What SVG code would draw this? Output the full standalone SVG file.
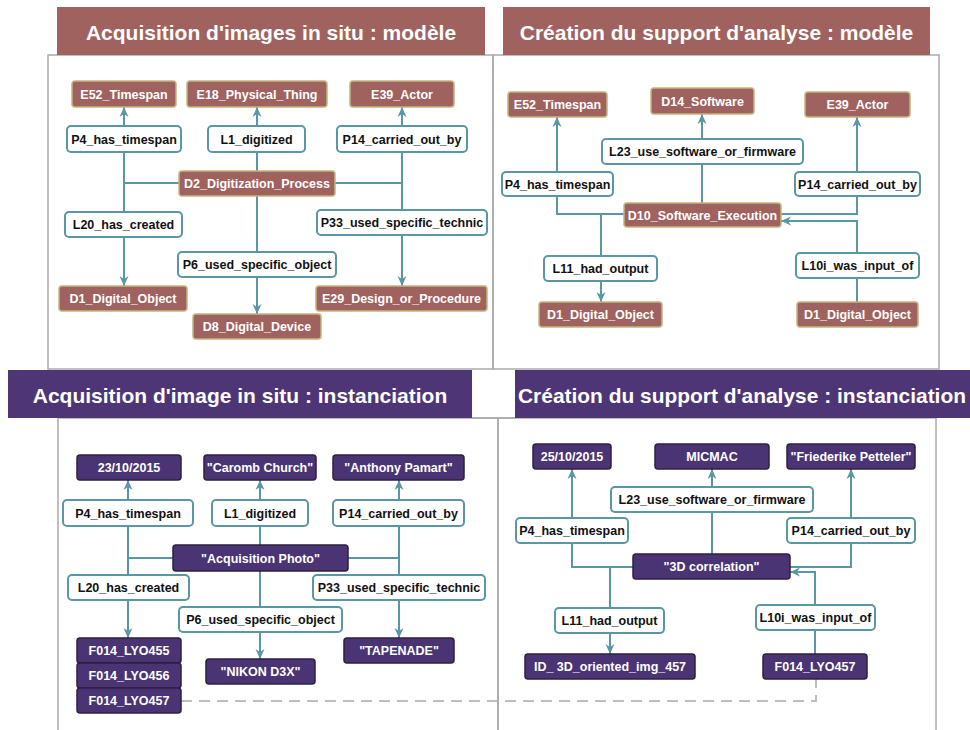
<svg xmlns="http://www.w3.org/2000/svg" width="970" height="730" viewBox="0 0 970 730">
<style>
  .panel{fill:none;stroke:#ABABAB;stroke-width:1.5}
  .bm{fill:#A0625F}
  .bi{fill:#4E3576}
  .title{font-family:"Liberation Sans",Arial,Helvetica,sans-serif;font-weight:bold;font-size:21px;fill:#FFFFFF}
  .m{fill:#A0625F;stroke:#C4B47E;stroke-width:1.5}
  .i{fill:#4B3474;stroke:#2C2040;stroke-width:1.5}
  .lb{fill:#FFFFFF;stroke:#5A97A5;stroke-width:2}
  .nt{font-family:"Liberation Sans",Arial,Helvetica,sans-serif;font-weight:bold;font-size:12.5px;fill:#FFFFFF;text-anchor:middle}
  .lt{font-family:"Liberation Sans",Arial,Helvetica,sans-serif;font-weight:bold;font-size:12.5px;fill:#111111;text-anchor:middle}
  .c{fill:none;stroke:#5A97A5;stroke-width:2}
  .a{marker-end:url(#arr)}
  .dash{fill:none;stroke:#BDBDBD;stroke-width:2;stroke-dasharray:11 7}
</style>
<defs>
  <marker id="arr" viewBox="0 0 10 10" refX="10" refY="5" markerWidth="10" markerHeight="10" orient="auto" markerUnits="userSpaceOnUse">
    <path d="M0,0.5 L10,5 L0,9.5 L3,5 z" fill="#5A97A5"/>
  </marker>
</defs>
<rect width="970" height="730" fill="#FFFFFF"/>

<g id="panels">
  <rect class="panel" x="48" y="55" width="445" height="314"/>
  <rect class="panel" x="493" y="55" width="446" height="314"/>
  <rect class="panel" x="58" y="418" width="440" height="320"/>
  <rect class="panel" x="498" y="418" width="438" height="320"/>
  <line class="panel" x1="472" y1="418" x2="515" y2="418"/>
</g>

<g id="banners">
  <g id="banner-tl"><rect class="bm" x="57" y="7" width="428" height="48"/><text class="title" x="271" y="40" text-anchor="middle">Acquisition d'images in situ : modèle</text></g>
  <g id="banner-tr"><rect class="bm" x="503" y="7" width="427" height="48"/><text class="title" x="716.5" y="40" text-anchor="middle">Création du support d'analyse : modèle</text></g>
  <g id="banner-bl"><rect class="bi" x="8" y="370" width="464" height="48"/><text class="title" x="240" y="403" text-anchor="middle">Acquisition d'image in situ : instanciation</text></g>
  <g id="banner-br"><rect class="bi" x="515" y="370" width="460" height="48"/><text class="title" x="518" y="403" textLength="448" lengthAdjust="spacingAndGlyphs">Création du support d'analyse : instanciation</text></g>
</g>

<g id="connectors">
  <!-- top-left -->
  <line class="c a" x1="124" y1="126" x2="124" y2="107"/>
  <line class="c a" x1="257" y1="126" x2="257" y2="107"/>
  <line class="c a" x1="402" y1="126" x2="402" y2="107"/>
  <line class="c" x1="124" y1="152" x2="124" y2="212"/>
  <line class="c" x1="124" y1="183" x2="179" y2="183"/>
  <line class="c" x1="335" y1="183" x2="402" y2="183"/>
  <line class="c a" x1="124" y1="237" x2="124" y2="286"/>
  <line class="c" x1="257" y1="152" x2="257" y2="171"/>
  <line class="c" x1="257" y1="196" x2="257" y2="252"/>
  <line class="c a" x1="257" y1="277" x2="257" y2="314"/>
  <line class="c" x1="402" y1="152" x2="402" y2="210"/>
  <line class="c a" x1="402" y1="235" x2="402" y2="286"/>
  <!-- top-right -->
  <line class="c a" x1="557" y1="172" x2="557" y2="117"/>
  <line class="c a" x1="702" y1="139" x2="702" y2="114"/>
  <line class="c a" x1="857" y1="172" x2="857" y2="117"/>
  <polyline class="c" points="557,196 557,214 624,214"/>
  <line class="c" x1="601" y1="214" x2="601" y2="256"/>
  <line class="c a" x1="601" y1="281" x2="601" y2="302"/>
  <line class="c" x1="702" y1="164" x2="702" y2="203"/>
  <polyline class="c" points="857,196 857,214 781,214"/>
  <polyline class="c a" points="857,253 857,221 781,221"/>
  <line class="c" x1="857" y1="278" x2="857" y2="302"/>
  <!-- bottom-left -->
  <line class="c a" x1="128" y1="500" x2="128" y2="480"/>
  <line class="c a" x1="260" y1="500" x2="260" y2="480"/>
  <line class="c a" x1="399" y1="500" x2="399" y2="480"/>
  <line class="c" x1="128" y1="526" x2="128" y2="575"/>
  <line class="c" x1="128" y1="558" x2="173" y2="558"/>
  <line class="c" x1="348" y1="558" x2="399" y2="558"/>
  <line class="c a" x1="128" y1="600" x2="128" y2="638"/>
  <line class="c" x1="260" y1="526" x2="260" y2="545"/>
  <line class="c" x1="260" y1="571" x2="260" y2="607"/>
  <line class="c a" x1="260" y1="632" x2="260" y2="659"/>
  <line class="c" x1="399" y1="526" x2="399" y2="575"/>
  <line class="c a" x1="399" y1="600" x2="399" y2="638"/>
  <!-- bottom-right -->
  <line class="c a" x1="572" y1="518" x2="572" y2="469"/>
  <line class="c a" x1="712" y1="487" x2="712" y2="469"/>
  <line class="c a" x1="851" y1="518" x2="851" y2="469"/>
  <polyline class="c" points="572,543 572,567 633,567"/>
  <line class="c" x1="610" y1="567" x2="610" y2="608"/>
  <line class="c a" x1="610" y1="633" x2="610" y2="654"/>
  <line class="c" x1="712" y1="512" x2="712" y2="554"/>
  <polyline class="c" points="851,543 851,567 790,567"/>
  <polyline class="c a" points="815,605 815,572 790,572"/>
  <line class="c" x1="815" y1="630" x2="815" y2="654"/>
  <!-- link between instances -->
  <polyline class="dash" points="181,701 816,701 816,679"/>
</g>

<!-- top-left nodes -->
<g id="tl-e52"><rect class="m" x="72" y="81" width="104" height="26" rx="3"/><text class="nt" x="124" y="98.5">E52_Timespan</text></g>
<g id="tl-e18"><rect class="m" x="187" y="81" width="140" height="26" rx="3"/><text class="nt" x="257" y="98.5">E18_Physical_Thing</text></g>
<g id="tl-e39"><rect class="m" x="350" y="81" width="104" height="26" rx="3"/><text class="nt" x="402" y="98.5">E39_Actor</text></g>
<g id="tl-p4"><rect class="lb" x="67" y="126" width="114" height="26" rx="4"/><text class="lt" x="124" y="143.5">P4_has_timespan</text></g>
<g id="tl-l1"><rect class="lb" x="208" y="126" width="97" height="26" rx="4"/><text class="lt" x="256.5" y="143.5">L1_digitized</text></g>
<g id="tl-p14"><rect class="lb" x="337" y="126" width="130" height="26" rx="4"/><text class="lt" x="402" y="143.5">P14_carried_out_by</text></g>
<g id="tl-d2"><rect class="m" x="179" y="171" width="156" height="25" rx="3"/><text class="nt" x="257" y="188">D2_Digitization_Process</text></g>
<g id="tl-l20"><rect class="lb" x="65" y="212" width="117" height="25" rx="4"/><text class="lt" x="123.5" y="229">L20_has_created</text></g>
<g id="tl-p33"><rect class="lb" x="317" y="210" width="170" height="25" rx="4"/><text class="lt" x="402" y="227">P33_used_specific_technic</text></g>
<g id="tl-p6"><rect class="lb" x="178" y="252" width="158" height="25" rx="4"/><text class="lt" x="257" y="269">P6_used_specific_object</text></g>
<g id="tl-d1"><rect class="m" x="59" y="286" width="128" height="25" rx="3"/><text class="nt" x="123" y="303">D1_Digital_Object</text></g>
<g id="tl-d8"><rect class="m" x="193" y="314" width="128" height="25" rx="3"/><text class="nt" x="257" y="331">D8_Digital_Device</text></g>
<g id="tl-e29"><rect class="m" x="316" y="286" width="171" height="25" rx="3"/><text class="nt" x="401.5" y="303">E29_Design_or_Procedure</text></g>

<!-- top-right nodes -->
<g id="tr-e52"><rect class="m" x="508" y="92" width="99" height="25" rx="3"/><text class="nt" x="557.5" y="109">E52_Timespan</text></g>
<g id="tr-d14"><rect class="m" x="651" y="88" width="103" height="26" rx="3"/><text class="nt" x="702.5" y="105.5">D14_Software</text></g>
<g id="tr-e39"><rect class="m" x="805" y="92" width="105" height="25" rx="3"/><text class="nt" x="857.5" y="109">E39_Actor</text></g>
<g id="tr-l23"><rect class="lb" x="602" y="139" width="201" height="25" rx="4"/><text class="lt" x="702.5" y="156">L23_use_software_or_firmware</text></g>
<g id="tr-p4"><rect class="lb" x="502" y="172" width="111" height="24" rx="4"/><text class="lt" x="557.5" y="188.5">P4_has_timespan</text></g>
<g id="tr-p14"><rect class="lb" x="795" y="172" width="125" height="24" rx="4"/><text class="lt" x="857.5" y="188.5">P14_carried_out_by</text></g>
<g id="tr-d10"><rect class="m" x="624" y="203" width="157" height="24" rx="3"/><text class="nt" x="702.5" y="219.5">D10_Software_Execution</text></g>
<g id="tr-l11"><rect class="lb" x="544" y="256" width="113" height="25" rx="4"/><text class="lt" x="600.5" y="273">L11_had_output</text></g>
<g id="tr-l10i"><rect class="lb" x="796" y="253" width="123" height="25" rx="4"/><text class="lt" x="857.5" y="270">L10i_was_input_of</text></g>
<g id="tr-d1a"><rect class="m" x="539" y="302" width="123" height="25" rx="3"/><text class="nt" x="600.5" y="319">D1_Digital_Object</text></g>
<g id="tr-d1b"><rect class="m" x="797" y="302" width="121" height="25" rx="3"/><text class="nt" x="857.5" y="319">D1_Digital_Object</text></g>

<!-- bottom-left nodes -->
<g id="bl-date"><rect class="i" x="77" y="455" width="104" height="25" rx="3"/><text class="nt" x="129" y="472">23/10/2015</text></g>
<g id="bl-caromb"><rect class="i" x="204" y="455" width="112" height="25" rx="3"/><text class="nt" x="260" y="472">"Caromb Church"</text></g>
<g id="bl-anthony"><rect class="i" x="333" y="455" width="131" height="25" rx="3"/><text class="nt" x="398.5" y="472">"Anthony Pamart"</text></g>
<g id="bl-p4"><rect class="lb" x="63" y="500" width="130" height="26" rx="4"/><text class="lt" x="128" y="517.5">P4_has_timespan</text></g>
<g id="bl-l1"><rect class="lb" x="212" y="500" width="96" height="26" rx="4"/><text class="lt" x="260" y="517.5">L1_digitized</text></g>
<g id="bl-p14"><rect class="lb" x="333" y="500" width="131" height="26" rx="4"/><text class="lt" x="398.5" y="517.5">P14_carried_out_by</text></g>
<g id="bl-acq"><rect class="i" x="173" y="545" width="175" height="26" rx="3"/><text class="nt" x="260.5" y="562.5">"Acquisition Photo"</text></g>
<g id="bl-l20"><rect class="lb" x="68" y="575" width="121" height="25" rx="4"/><text class="lt" x="128.5" y="592">L20_has_created</text></g>
<g id="bl-p33"><rect class="lb" x="313" y="575" width="172" height="25" rx="4"/><text class="lt" x="399" y="592">P33_used_specific_technic</text></g>
<g id="bl-p6"><rect class="lb" x="179" y="607" width="163" height="25" rx="4"/><text class="lt" x="260.5" y="624">P6_used_specific_object</text></g>
<g id="bl-f455"><rect class="i" x="77" y="638" width="104" height="25" rx="3"/><text class="nt" x="129" y="655">F014_LYO455</text></g>
<g id="bl-f456"><rect class="i" x="77" y="663" width="104" height="25" rx="3"/><text class="nt" x="129" y="680">F014_LYO456</text></g>
<g id="bl-f457"><rect class="i" x="77" y="688" width="104" height="25" rx="3"/><text class="nt" x="129" y="705">F014_LYO457</text></g>
<g id="bl-nikon"><rect class="i" x="206" y="659" width="109" height="25" rx="3"/><text class="nt" x="260.5" y="676">"NIKON D3X"</text></g>
<g id="bl-tapenade"><rect class="i" x="344" y="638" width="110" height="25" rx="3"/><text class="nt" x="399" y="655">"TAPENADE"</text></g>

<!-- bottom-right nodes -->
<g id="br-date"><rect class="i" x="533" y="444" width="78" height="25" rx="3"/><text class="nt" x="572" y="461">25/10/2015</text></g>
<g id="br-micmac"><rect class="i" x="655" y="444" width="114" height="25" rx="3"/><text class="nt" x="712" y="461">MICMAC</text></g>
<g id="br-friederike"><rect class="i" x="787" y="444" width="128" height="25" rx="3"/><text class="nt" x="851" y="461">"Friederike Petteler"</text></g>
<g id="br-l23"><rect class="lb" x="611" y="487" width="202" height="25" rx="4"/><text class="lt" x="712" y="504">L23_use_software_or_firmware</text></g>
<g id="br-p4"><rect class="lb" x="516" y="518" width="112" height="25" rx="4"/><text class="lt" x="572" y="535">P4_has_timespan</text></g>
<g id="br-p14"><rect class="lb" x="787" y="518" width="128" height="25" rx="4"/><text class="lt" x="851" y="535">P14_carried_out_by</text></g>
<g id="br-3d"><rect class="i" x="633" y="554" width="157" height="25" rx="3"/><text class="nt" x="711.5" y="571">"3D correlation"</text></g>
<g id="br-l11"><rect class="lb" x="555" y="608" width="109" height="25" rx="4"/><text class="lt" x="609.5" y="625">L11_had_output</text></g>
<g id="br-l10i"><rect class="lb" x="756" y="605" width="119" height="25" rx="4"/><text class="lt" x="815.5" y="622">L10i_was_input_of</text></g>
<g id="br-id"><rect class="i" x="525" y="654" width="170" height="25" rx="3"/><text class="nt" x="610" y="671">ID_ 3D_oriented_img_457</text></g>
<g id="br-f457"><rect class="i" x="763" y="654" width="104" height="25" rx="3"/><text class="nt" x="815" y="671">F014_LYO457</text></g>
</svg>
